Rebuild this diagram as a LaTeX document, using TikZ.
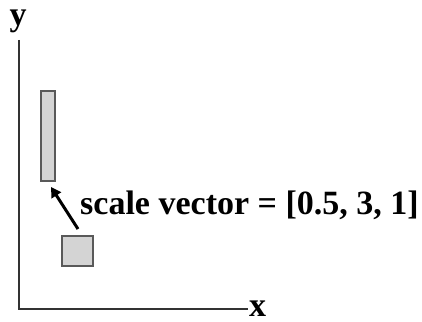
\documentclass[tikz,border=0pt]{standalone}
\usepackage{fontspec}
\setmainfont{Liberation Serif}
\usetikzlibrary{arrows.meta}
\begin{document}
\begin{tikzpicture}[x=1pt,y=-1pt,
  axis/.style={line width=2.4pt,draw=black!80},
  box/.style={line width=2.4pt,draw=black!65,fill=black!17},
  lab/.style={font=\bfseries\fontsize{34}{34}\selectfont,inner sep=0pt},
  arr/.style={line width=3pt,-{Triangle[length=10pt,width=11pt]}}]
\useasboundingbox (0,0) rectangle (422,321);
\coordinate (O) at (19,309);
\coordinate (Ytop) at (19,40);
\coordinate (Xend) at (248,309);
\draw[axis] (Ytop) -- (O) -- (Xend);
\node[lab,anchor=base] (ylab) at (18,26) {y};
\node[lab,anchor=base west] (xlab) at (249,316) {x};
\draw[box] (41,91) rectangle (55,181);
\node (tall) at (48,136) {};
\draw[box] (62,236) rectangle (93,266);
\coordinate (tail) at (78,229);
\coordinate (head) at (51,187);
\draw[arr] (tail) -- (head);
\node[lab,anchor=base west] (txt) at (80,214) {scale vector = [0.5, 3, 1]};
\end{tikzpicture}
\end{document}
